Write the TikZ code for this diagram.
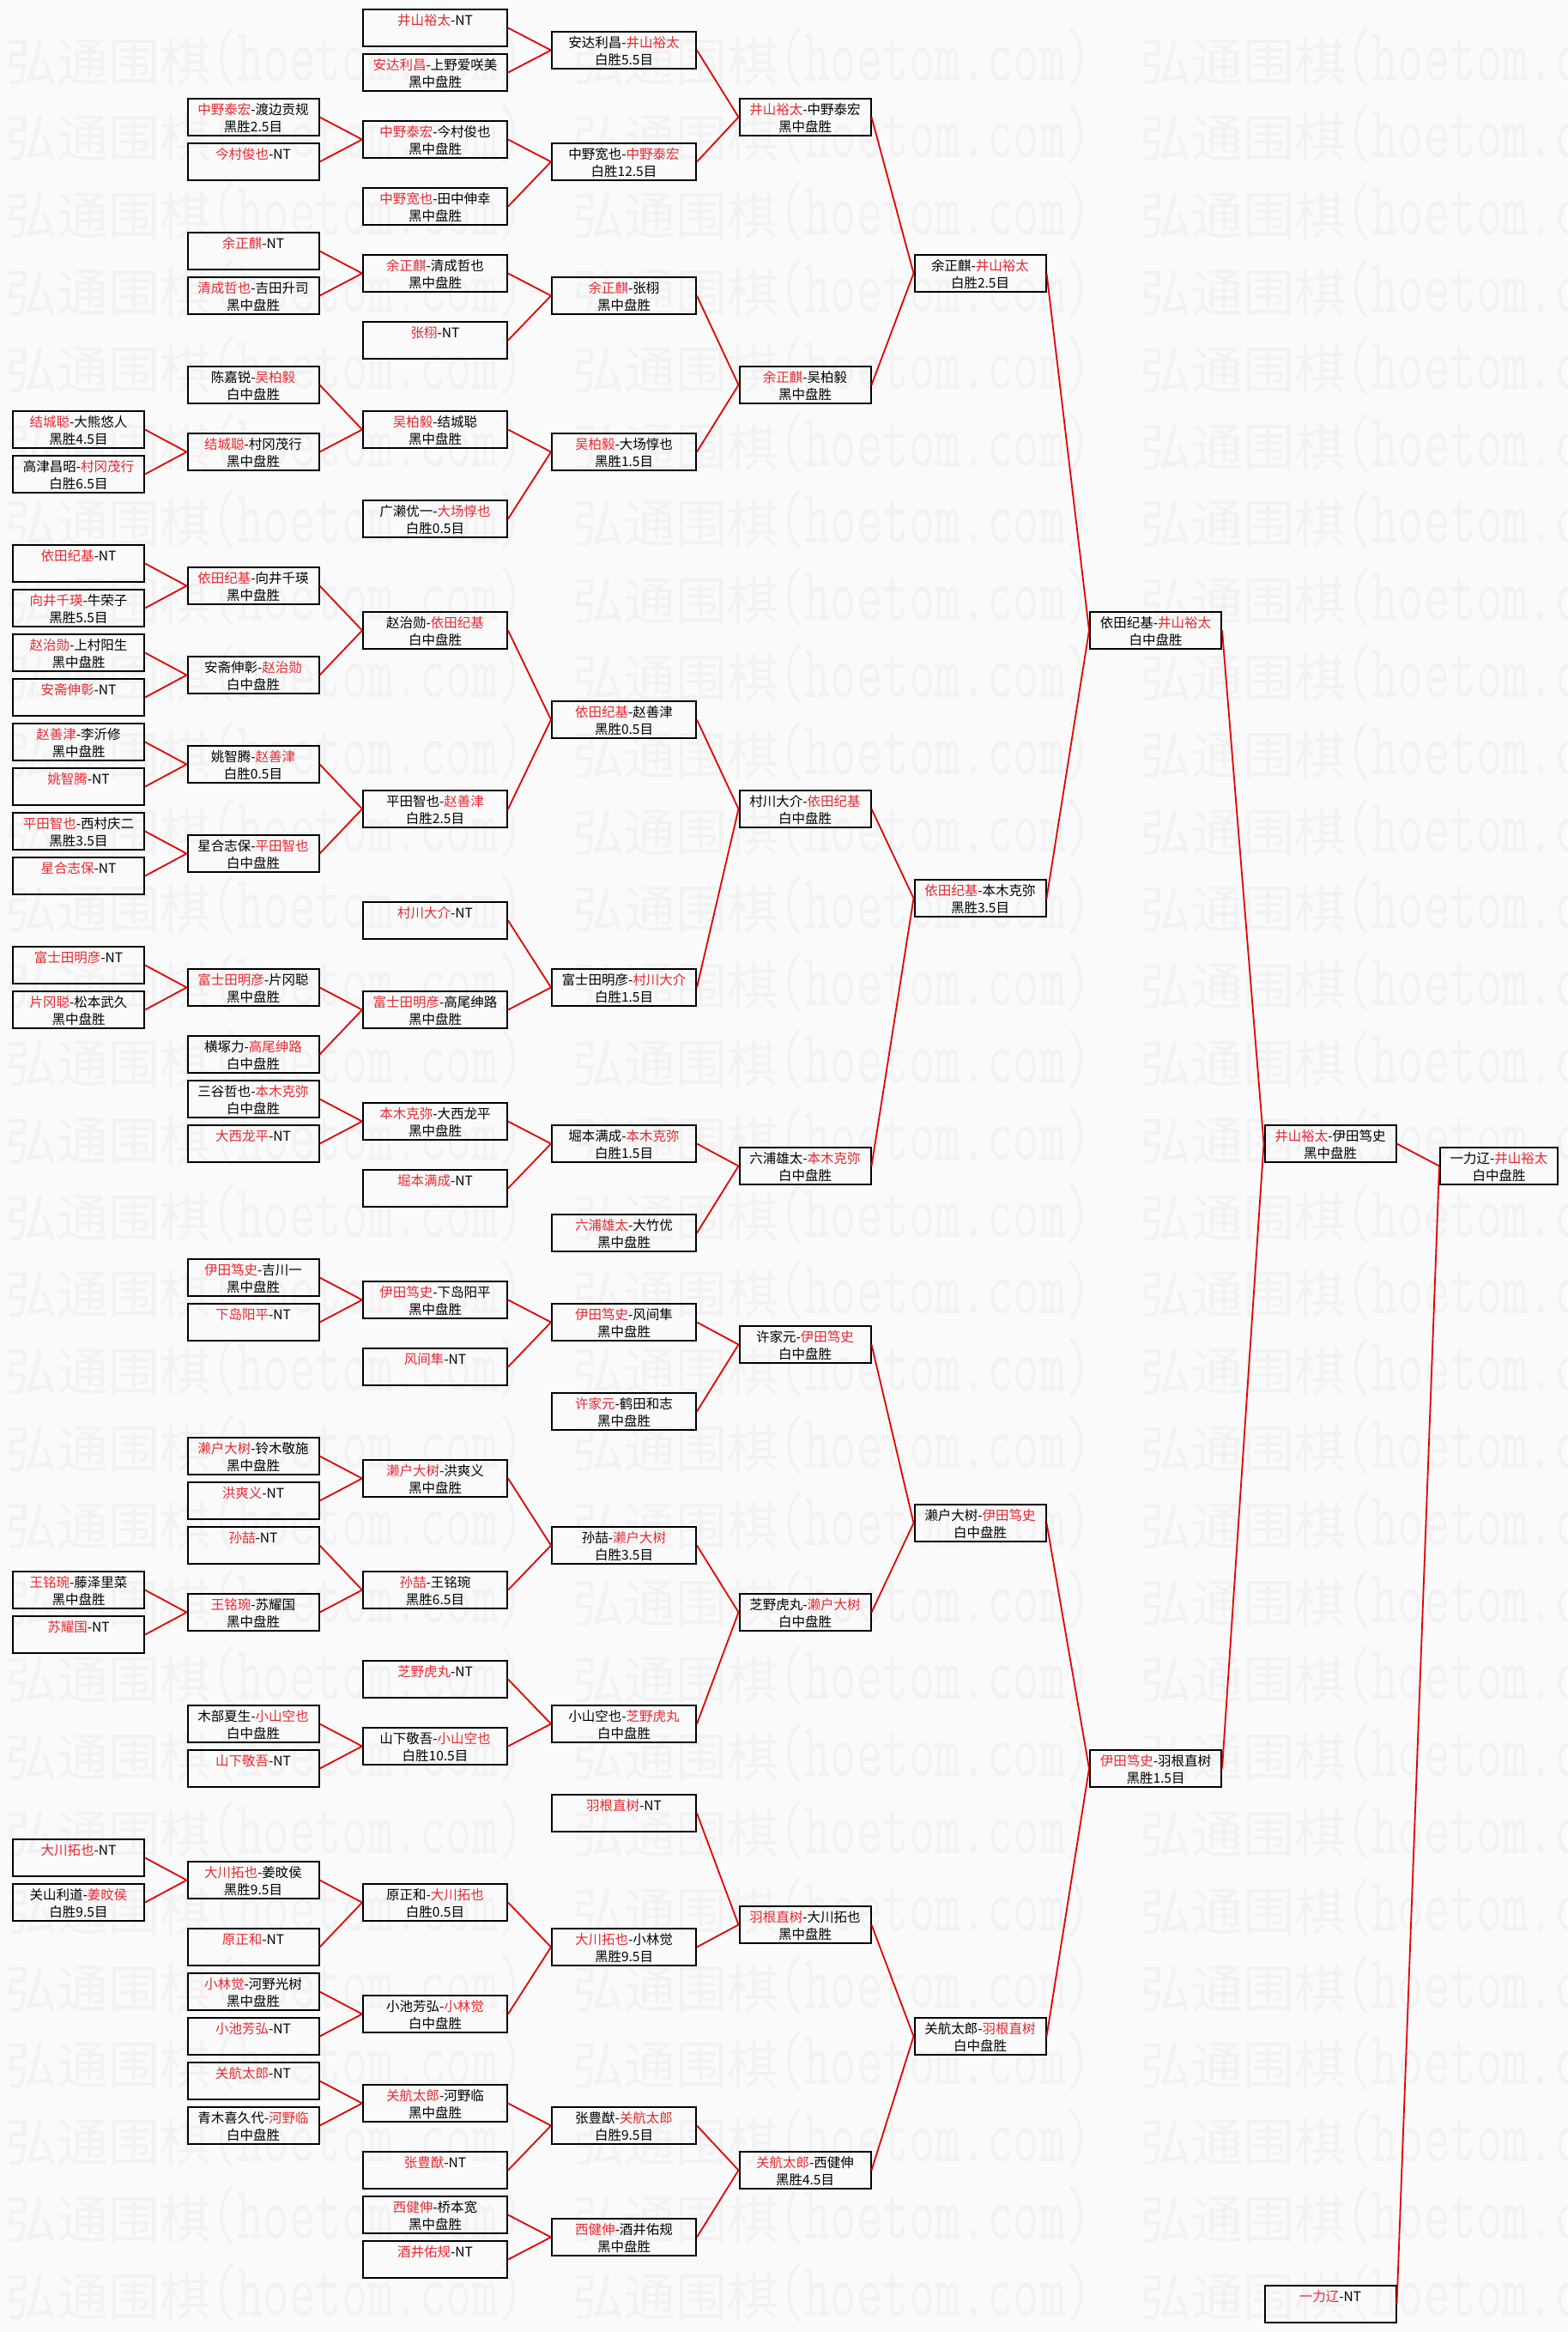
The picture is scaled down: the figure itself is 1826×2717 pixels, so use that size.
\documentclass[tikz,border=0pt]{standalone}
\usepackage{fontspec}
\setmainfont{Noto Sans CJK SC}
\usepackage{tikz}
\definecolor{winred}{RGB}{230,40,48}
\definecolor{linkred}{RGB}{226,0,0}
\definecolor{paper}{RGB}{250,250,250}
\definecolor{wmgray}{RGB}{242,242,242}
\newcommand{\winner}[1]{\textcolor{winred}{#1}}
\newcommand{\wmtext}{{\fontsize{60}{60}\selectfont 弘通围棋}\scalebox{1}[1.5]{\ttfamily\fontsize{59}{59}\selectfont (hoetom.com)}}
\tikzset{bout/.style={draw=black, line width=2pt, inner sep=0pt, minimum height=43.5pt, align=center, text height=36.6pt, text depth=2pt, font=\fontsize{15.5}{20}\selectfont}}
\tikzset{mbox/.style={bout, minimum width=153pt}}
\tikzset{wbox/.style={bout, minimum width=168pt}}
\tikzset{sbox/.style={bout, minimum width=137pt}}
\tikzset{lnk/.style={draw=linkred, line width=1.8pt}}
\tikzset{wm/.style={anchor=west, inner sep=0pt, text=wmgray}}

\begin{document}
\begin{tikzpicture}[x=1pt, y=-1pt]
  \useasboundingbox (0,0) rectangle (1826,2717);
  \clip (0,0) rectangle (1826,2717);
  \fill [paper] (0,0) rectangle (1826,2717);
  \foreach \i in {0,...,29}
    \foreach \j in {0,1,2}
      \node [wm] (wm\i-\j) at ({6+661*\j}, {67+89.8*\i}) {\wmtext};
  \begin{scope}[y=-26pt, yshift=-32.5pt]
    \node [mbox] (A18) at (91.5,18) {\winner{结城聪}-大熊悠人\\黑胜4.5目};
    \node [mbox] (A20) at (91.5,20) {高津昌昭-\winner{村冈茂行}\\白胜6.5目};
    \node [mbox] (A24) at (91.5,24) {\winner{依田纪基}-NT\\\strut};
    \node [mbox] (A26) at (91.5,26) {\winner{向井千瑛}-牛荣子\\黑胜5.5目};
    \node [mbox] (A28) at (91.5,28) {\winner{赵治勋}-上村阳生\\黑中盘胜};
    \node [mbox] (A30) at (91.5,30) {\winner{安斋伸彰}-NT\\\strut};
    \node [mbox] (A32) at (91.5,32) {\winner{赵善津}-李沂修\\黑中盘胜};
    \node [mbox] (A34) at (91.5,34) {\winner{姚智腾}-NT\\\strut};
    \node [mbox] (A36) at (91.5,36) {\winner{平田智也}-西村庆二\\黑胜3.5目};
    \node [mbox] (A38) at (91.5,38) {\winner{星合志保}-NT\\\strut};
    \node [mbox] (A42) at (91.5,42) {\winner{富士田明彦}-NT\\\strut};
    \node [mbox] (A44) at (91.5,44) {\winner{片冈聪}-松本武久\\黑中盘胜};
    \node [mbox] (A70) at (91.5,70) {\winner{王铭琬}-藤泽里菜\\黑中盘胜};
    \node [mbox] (A72) at (91.5,72) {\winner{苏耀国}-NT\\\strut};
    \node [mbox] (A82) at (91.5,82) {\winner{大川拓也}-NT\\\strut};
    \node [mbox] (A84) at (91.5,84) {关山利道-\winner{姜旼侯}\\白胜9.5目};

    \node [mbox] (B4) at (295,4) {\winner{中野泰宏}-渡边贡规\\黑胜2.5目};
    \node [mbox] (B6) at (295,6) {\winner{今村俊也}-NT\\\strut};
    \node [mbox] (B10) at (295,10) {\winner{余正麒}-NT\\\strut};
    \node [mbox] (B12) at (295,12) {\winner{清成哲也}-吉田升司\\黑中盘胜};
    \node [mbox] (B16) at (295,16) {陈嘉锐-\winner{吴柏毅}\\白中盘胜};
    \node [mbox] (B19) at (295,19) {\winner{结城聪}-村冈茂行\\黑中盘胜};
    \node [mbox] (B25) at (295,25) {\winner{依田纪基}-向井千瑛\\黑中盘胜};
    \node [mbox] (B29) at (295,29) {安斋伸彰-\winner{赵治勋}\\白中盘胜};
    \node [mbox] (B33) at (295,33) {姚智腾-\winner{赵善津}\\白胜0.5目};
    \node [mbox] (B37) at (295,37) {星合志保-\winner{平田智也}\\白中盘胜};
    \node [mbox] (B43) at (295,43) {\winner{富士田明彦}-片冈聪\\黑中盘胜};
    \node [mbox] (B46) at (295,46) {横塚力-\winner{高尾绅路}\\白中盘胜};
    \node [mbox] (B48) at (295,48) {三谷哲也-\winner{本木克弥}\\白中盘胜};
    \node [mbox] (B50) at (295,50) {\winner{大西龙平}-NT\\\strut};
    \node [mbox] (B56) at (295,56) {\winner{伊田笃史}-吉川一\\黑中盘胜};
    \node [mbox] (B58) at (295,58) {\winner{下岛阳平}-NT\\\strut};
    \node [mbox] (B64) at (295,64) {\winner{濑户大树}-铃木敬施\\黑中盘胜};
    \node [mbox] (B66) at (295,66) {\winner{洪爽义}-NT\\\strut};
    \node [mbox] (B68) at (295,68) {\winner{孙喆}-NT\\\strut};
    \node [mbox] (B71) at (295,71) {\winner{王铭琬}-苏耀国\\黑中盘胜};
    \node [mbox] (B76) at (295,76) {木部夏生-\winner{小山空也}\\白中盘胜};
    \node [mbox] (B78) at (295,78) {\winner{山下敬吾}-NT\\\strut};
    \node [mbox] (B83) at (295,83) {\winner{大川拓也}-姜旼侯\\黑胜9.5目};
    \node [mbox] (B86) at (295,86) {\winner{原正和}-NT\\\strut};
    \node [mbox] (B88) at (295,88) {\winner{小林觉}-河野光树\\黑中盘胜};
    \node [mbox] (B90) at (295,90) {\winner{小池芳弘}-NT\\\strut};
    \node [mbox] (B92) at (295,92) {\winner{关航太郎}-NT\\\strut};
    \node [mbox] (B94) at (295,94) {青木喜久代-\winner{河野临}\\白中盘胜};

    \node [wbox] (C0) at (507,0) {\winner{井山裕太}-NT\\\strut};
    \node [wbox] (C2) at (507,2) {\winner{安达利昌}-上野爱咲美\\黑中盘胜};
    \node [wbox] (C5) at (507,5) {\winner{中野泰宏}-今村俊也\\黑中盘胜};
    \node [wbox] (C8) at (507,8) {\winner{中野宽也}-田中伸幸\\黑中盘胜};
    \node [wbox] (C11) at (507,11) {\winner{余正麒}-清成哲也\\黑中盘胜};
    \node [wbox] (C14) at (507,14) {\winner{张栩}-NT\\\strut};
    \node [wbox] (C18) at (507,18) {\winner{吴柏毅}-结城聪\\黑中盘胜};
    \node [wbox] (C22) at (507,22) {广濑优一-\winner{大场惇也}\\白胜0.5目};
    \node [wbox] (C27) at (507,27) {赵治勋-\winner{依田纪基}\\白中盘胜};
    \node [wbox] (C35) at (507,35) {平田智也-\winner{赵善津}\\白胜2.5目};
    \node [wbox] (C40) at (507,40) {\winner{村川大介}-NT\\\strut};
    \node [wbox] (C44) at (507,44) {\winner{富士田明彦}-高尾绅路\\黑中盘胜};
    \node [wbox] (C49) at (507,49) {\winner{本木克弥}-大西龙平\\黑中盘胜};
    \node [wbox] (C52) at (507,52) {\winner{堀本满成}-NT\\\strut};
    \node [wbox] (C57) at (507,57) {\winner{伊田笃史}-下岛阳平\\黑中盘胜};
    \node [wbox] (C60) at (507,60) {\winner{风间隼}-NT\\\strut};
    \node [wbox] (C65) at (507,65) {\winner{濑户大树}-洪爽义\\黑中盘胜};
    \node [wbox] (C70) at (507,70) {\winner{孙喆}-王铭琬\\黑胜6.5目};
    \node [wbox] (C74) at (507,74) {\winner{芝野虎丸}-NT\\\strut};
    \node [wbox] (C77) at (507,77) {山下敬吾-\winner{小山空也}\\白胜10.5目};
    \node [wbox] (C84) at (507,84) {原正和-\winner{大川拓也}\\白胜0.5目};
    \node [wbox] (C89) at (507,89) {小池芳弘-\winner{小林觉}\\白中盘胜};
    \node [wbox] (C93) at (507,93) {\winner{关航太郎}-河野临\\黑中盘胜};
    \node [wbox] (C96) at (507,96) {\winner{张豊猷}-NT\\\strut};
    \node [wbox] (C98) at (507,98) {\winner{西健伸}-桥本宽\\黑中盘胜};
    \node [wbox] (C100) at (507,100) {\winner{酒井佑规}-NT\\\strut};

    \node [wbox] (D1) at (727,1) {安达利昌-\winner{井山裕太}\\白胜5.5目};
    \node [wbox] (D6) at (727,6) {中野宽也-\winner{中野泰宏}\\白胜12.5目};
    \node [wbox] (D12) at (727,12) {\winner{余正麒}-张栩\\黑中盘胜};
    \node [wbox] (D19) at (727,19) {\winner{吴柏毅}-大场惇也\\黑胜1.5目};
    \node [wbox] (D31) at (727,31) {\winner{依田纪基}-赵善津\\黑胜0.5目};
    \node [wbox] (D43) at (727,43) {富士田明彦-\winner{村川大介}\\白胜1.5目};
    \node [wbox] (D50) at (727,50) {堀本满成-\winner{本木克弥}\\白胜1.5目};
    \node [wbox] (D54) at (727,54) {\winner{六浦雄太}-大竹优\\黑中盘胜};
    \node [wbox] (D58) at (727,58) {\winner{伊田笃史}-风间隼\\黑中盘胜};
    \node [wbox] (D62) at (727,62) {\winner{许家元}-鹤田和志\\黑中盘胜};
    \node [wbox] (D68) at (727,68) {孙喆-\winner{濑户大树}\\白胜3.5目};
    \node [wbox] (D76) at (727,76) {小山空也-\winner{芝野虎丸}\\白中盘胜};
    \node [wbox] (D80) at (727,80) {\winner{羽根直树}-NT\\\strut};
    \node [wbox] (D86) at (727,86) {\winner{大川拓也}-小林觉\\黑胜9.5目};
    \node [wbox] (D94) at (727,94) {张豊猷-\winner{关航太郎}\\白胜9.5目};
    \node [wbox] (D99) at (727,99) {\winner{西健伸}-酒井佑规\\黑中盘胜};

    \node [mbox] (E4) at (938,4) {\winner{井山裕太}-中野泰宏\\黑中盘胜};
    \node [mbox] (E16) at (938,16) {\winner{余正麒}-吴柏毅\\黑中盘胜};
    \node [mbox] (E35) at (938,35) {村川大介-\winner{依田纪基}\\白中盘胜};
    \node [mbox] (E51) at (938,51) {六浦雄太-\winner{本木克弥}\\白中盘胜};
    \node [mbox] (E59) at (938,59) {许家元-\winner{伊田笃史}\\白中盘胜};
    \node [mbox] (E71) at (938,71) {芝野虎丸-\winner{濑户大树}\\白中盘胜};
    \node [mbox] (E85) at (938,85) {\winner{羽根直树}-大川拓也\\黑中盘胜};
    \node [mbox] (E96) at (938,96) {\winner{关航太郎}-西健伸\\黑胜4.5目};

    \node [mbox] (F11) at (1142,11) {余正麒-\winner{井山裕太}\\白胜2.5目};
    \node [mbox] (F39) at (1142,39) {\winner{依田纪基}-本木克弥\\黑胜3.5目};
    \node [mbox] (F67) at (1142,67) {濑户大树-\winner{伊田笃史}\\白中盘胜};
    \node [mbox] (F90) at (1142,90) {关航太郎-\winner{羽根直树}\\白中盘胜};

    \node [mbox] (G27) at (1346.5,27) {依田纪基-\winner{井山裕太}\\白中盘胜};
    \node [mbox] (G78) at (1346.5,78) {\winner{伊田笃史}-羽根直树\\黑胜1.5目};

    \node [mbox] (H50) at (1550,50) {\winner{井山裕太}-伊田笃史\\黑中盘胜};
    \node [mbox] (H102) at (1550,102) {\winner{一力辽}-NT\\\strut};

    \node [sbox] (I51) at (1746.5,51) {一力辽-\winner{井山裕太}\\白中盘胜};

    \draw [lnk] (C0.east) -- (D1.west) (C2.east) -- (D1.west);
    \draw [lnk] (B4.east) -- (C5.west) (B6.east) -- (C5.west);
    \draw [lnk] (C5.east) -- (D6.west) (C8.east) -- (D6.west);
    \draw [lnk] (D1.east) -- (E4.west) (D6.east) -- (E4.west);
    \draw [lnk] (B10.east) -- (C11.west) (B12.east) -- (C11.west);
    \draw [lnk] (C11.east) -- (D12.west) (C14.east) -- (D12.west);
    \draw [lnk] (A18.east) -- (B19.west) (A20.east) -- (B19.west);
    \draw [lnk] (B16.east) -- (C18.west) (B19.east) -- (C18.west);
    \draw [lnk] (C18.east) -- (D19.west) (C22.east) -- (D19.west);
    \draw [lnk] (D12.east) -- (E16.west) (D19.east) -- (E16.west);
    \draw [lnk] (E4.east) -- (F11.west) (E16.east) -- (F11.west);
    \draw [lnk] (F11.east) -- (G27.west);

    \draw [lnk] (A24.east) -- (B25.west) (A26.east) -- (B25.west);
    \draw [lnk] (A28.east) -- (B29.west) (A30.east) -- (B29.west);
    \draw [lnk] (B25.east) -- (C27.west) (B29.east) -- (C27.west);
    \draw [lnk] (A32.east) -- (B33.west) (A34.east) -- (B33.west);
    \draw [lnk] (A36.east) -- (B37.west) (A38.east) -- (B37.west);
    \draw [lnk] (B33.east) -- (C35.west) (B37.east) -- (C35.west);
    \draw [lnk] (C27.east) -- (D31.west) (C35.east) -- (D31.west);
    \draw [lnk] (A42.east) -- (B43.west) (A44.east) -- (B43.west);
    \draw [lnk] (B43.east) -- (C44.west) (B46.east) -- (C44.west);
    \draw [lnk] (C40.east) -- (D43.west) (C44.east) -- (D43.west);
    \draw [lnk] (D31.east) -- (E35.west) (D43.east) -- (E35.west);
    \draw [lnk] (B48.east) -- (C49.west) (B50.east) -- (C49.west);
    \draw [lnk] (C49.east) -- (D50.west) (C52.east) -- (D50.west);
    \draw [lnk] (D50.east) -- (E51.west) (D54.east) -- (E51.west);
    \draw [lnk] (E35.east) -- (F39.west) (E51.east) -- (F39.west);
    \draw [lnk] (F39.east) -- (G27.west);
    \draw [lnk] (G27.east) -- (H50.west);

    \draw [lnk] (B56.east) -- (C57.west) (B58.east) -- (C57.west);
    \draw [lnk] (C57.east) -- (D58.west) (C60.east) -- (D58.west);
    \draw [lnk] (D58.east) -- (E59.west) (D62.east) -- (E59.west);
    \draw [lnk] (B64.east) -- (C65.west) (B66.east) -- (C65.west);
    \draw [lnk] (A70.east) -- (B71.west) (A72.east) -- (B71.west);
    \draw [lnk] (B68.east) -- (C70.west) (B71.east) -- (C70.west);
    \draw [lnk] (C65.east) -- (D68.west) (C70.east) -- (D68.west);
    \draw [lnk] (B76.east) -- (C77.west) (B78.east) -- (C77.west);
    \draw [lnk] (C74.east) -- (D76.west) (C77.east) -- (D76.west);
    \draw [lnk] (D68.east) -- (E71.west) (D76.east) -- (E71.west);
    \draw [lnk] (E59.east) -- (F67.west) (E71.east) -- (F67.west);
    \draw [lnk] (F67.east) -- (G78.west);
    \draw [lnk] (A82.east) -- (B83.west) (A84.east) -- (B83.west);
    \draw [lnk] (B83.east) -- (C84.west) (B86.east) -- (C84.west);
    \draw [lnk] (B88.east) -- (C89.west) (B90.east) -- (C89.west);
    \draw [lnk] (C84.east) -- (D86.west) (C89.east) -- (D86.west);
    \draw [lnk] (D80.east) -- (E85.west) (D86.east) -- (E85.west);
    \draw [lnk] (B92.east) -- (C93.west) (B94.east) -- (C93.west);
    \draw [lnk] (C93.east) -- (D94.west) (C96.east) -- (D94.west);
    \draw [lnk] (C98.east) -- (D99.west) (C100.east) -- (D99.west);
    \draw [lnk] (D94.east) -- (E96.west) (D99.east) -- (E96.west);
    \draw [lnk] (E85.east) -- (F90.west) (E96.east) -- (F90.west);
    \draw [lnk] (F90.east) -- (G78.west);
    \draw [lnk] (G78.east) -- (H50.west);

    \draw [lnk] (H50.east) -- (I51.west) (H102.east) -- (I51.west);
  \end{scope}
\end{tikzpicture}
\end{document}
